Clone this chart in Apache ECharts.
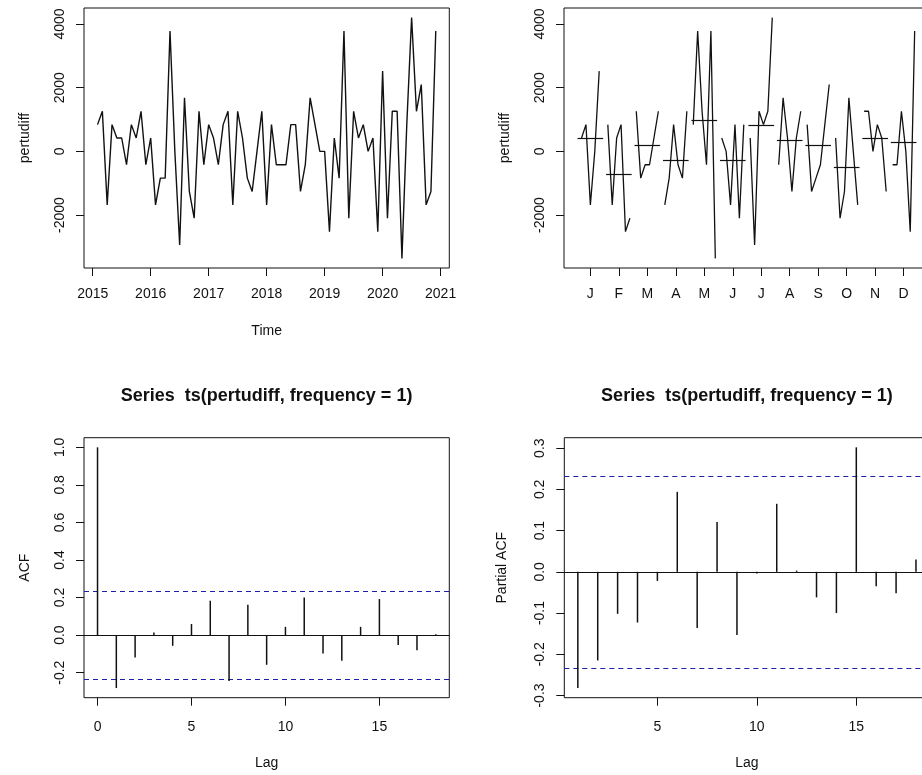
<!DOCTYPE html>
<html>
<head>
<meta charset="utf-8">
<title>pertudiff</title>
<script src="https://cdn.jsdelivr.net/npm/echarts@6/dist/echarts.min.js"></script>
<style>
  html, body { margin: 0; padding: 0; background: #fff; }
  #chart { width: 922px; height: 775px; }
</style>
</head>
<body>
<div id="chart"></div>
<script>
// Differenced monthly series, starting February 2015
const startYear = 2015;
const startMonth = 2;
const pertudiff = [
  840, 1260, -1680, 840, 420, 420, -420, 840, 420, 1260, -420,          // 2015 Feb-Dec
  420, -1680, -840, -840, 3780, 0, -2940, 1680, -1260, -2100, 1260, -420, // 2016
  840, 420, -420, 840, 1260, -1680, 1260, 420, -840, -1260, 0, 1260,      // 2017
  -1680, 840, -420, -420, -420, 840, 840, -1260, -420, 1680, 840, 0,      // 2018
  0, -2520, 420, -840, 3780, -2100, 1260, 420, 840, 0, 420, -2520,        // 2019
  2520, -2100, 1260, 1260, -3360, 840, 4200, 1260, 2100, -1680, -1260, 3780 // 2020
];

const monthLabels = ['J', 'F', 'M', 'A', 'M', 'J', 'J', 'A', 'S', 'O', 'N', 'D'];
const yearTicks = [2015, 2016, 2017, 2018, 2019, 2020, 2021];
const levelTicks = [-2000, 0, 2000, 4000];
const monthTicks = [1, 2, 3, 4, 5, 6, 7, 8, 9, 10, 11, 12];

// Sample autocorrelations, lags 0..18
const acfLags = [0, 1, 2, 3, 4, 5, 6, 7, 8, 9, 10, 11, 12, 13, 14, 15, 16, 17, 18];
const acfValues = [1.0, -0.282, -0.119, 0.014, -0.057, 0.059, 0.183, -0.245, 0.162, -0.158,
                   0.044, 0.200, -0.098, -0.137, 0.044, 0.192, -0.052, -0.080, 0.004];
// Partial autocorrelations, lags 1..18
const pacfLags = [1, 2, 3, 4, 5, 6, 7, 8, 9, 10, 11, 12, 13, 14, 15, 16, 17, 18];
const pacfValues = [-0.282, -0.215, -0.102, -0.123, -0.022, 0.194, -0.136, 0.121, -0.153,
                    -0.004, 0.165, 0.003, -0.062, -0.100, 0.302, -0.035, -0.052, 0.030];
const confBound = 0.2326;

const acfTicks = [-0.2, 0, 0.2, 0.4, 0.6, 0.8, 1.0];
const pacfTicks = [-0.3, -0.2, -0.1, 0, 0.1, 0.2, 0.3];
const acfLagTicks = [0, 5, 10, 15];
const pacfLagTicks = [5, 10, 15];

const mainTitle = 'Series  ts(pertudiff, frequency = 1)';

// ---------------------------------------------------------------------------
const FONT = '"Liberation Sans", Arial, Helvetica, sans-serif';
const INK = '#111';
const CI_BLUE = '#1e1ea8';

// R-style axis limits: data range widened by 4% on each side
function padRange(lo, hi) {
  const e = (hi - lo) * 0.04;
  return [lo - e, hi + e];
}

const times = pertudiff.map((_, k) => startYear + (startMonth - 1 + k) / 12);
const tsX = padRange(times[0], times[times.length - 1]);
const tsY = padRange(Math.min(...pertudiff), Math.max(...pertudiff));
const monthX = padRange(0.55, 12.45);
const acfX = padRange(acfLags[0], acfLags[acfLags.length - 1]);
const acfY = padRange(Math.min(...acfValues, -confBound), Math.max(...acfValues, confBound));
const pacfX = padRange(pacfLags[0], pacfLags[pacfLags.length - 1]);
const pacfY = padRange(Math.min(...pacfValues, -confBound), Math.max(...pacfValues, confBound));

// Month subseries for the seasonal plot
const groups = monthLabels.map(() => []);
pertudiff.forEach((v, k) => groups[(startMonth - 1 + k) % 12].push(v));
const monthMeans = groups.map((vals, m) => [m + 1, vals.reduce((a, b) => a + b, 0) / vals.length]);

function makeAxis(gridIndex, range, ticks, fmt, margin, name, nameGap, rotate) {
  return {
    type: 'value', gridIndex, min: range[0], max: range[1],
    axisLine: { show: false, onZero: false },
    splitLine: { show: false },
    axisTick: { show: true, length: 8, customValues: ticks, lineStyle: { color: INK, width: 1 } },
    axisLabel: {
      customValues: ticks, formatter: fmt, margin, rotate: rotate || 0,
      color: INK, fontSize: 14, fontFamily: FONT, hideOverlap: false
    },
    name, nameLocation: 'middle', nameGap,
    nameTextStyle: { color: INK, fontSize: 14, fontFamily: FONT }
  };
}

const fmtInt = v => String(Math.round(v));
const fmt1 = v => (Math.abs(v) < 1e-9 ? 0 : v).toFixed(1);
const fmtMonth = v => monthLabels[Math.round(v) - 1];

function gridBox(left, top, width, height) {
  return {
    left, top, width, height, show: true, borderColor: INK, borderWidth: 1,
    backgroundColor: 'transparent', containLabel: false, outerBoundsMode: 'none'
  };
}

// Vertical stems from zero to each value
function stemSeries(idx, lags, vals) {
  return {
    type: 'custom', xAxisIndex: idx, yAxisIndex: idx, silent: true,
    data: lags.map((l, i) => [l, vals[i]]),
    renderItem(params, api) {
      const p0 = api.coord([api.value(0), 0]);
      const p1 = api.coord([api.value(0), api.value(1)]);
      return {
        type: 'line',
        shape: { x1: p0[0], y1: p0[1], x2: p1[0], y2: p1[1] },
        style: { stroke: INK, lineWidth: 1.5 }
      };
    }
  };
}

// Horizontal reference lines across the whole plot box (snapped to the pixel grid)
function hLineSeries(idx, levels, color, dash) {
  return {
    type: 'custom', xAxisIndex: idx, yAxisIndex: idx, silent: true,
    data: levels.map(v => [0, v]),
    renderItem(params, api) {
      const cs = params.coordSys;
      const y = Math.round(api.coord([0, api.value(1)])[1]) + 0.5;
      return {
        type: 'line',
        shape: { x1: cs.x, y1: y, x2: cs.x + cs.width, y2: y },
        style: { stroke: color, lineWidth: 1, lineDash: dash || null }
      };
    }
  };
}

const series = [];

series.push({
  type: 'line', xAxisIndex: 0, yAxisIndex: 0, silent: true,
  showSymbol: false, symbol: 'none',
  data: pertudiff.map((v, k) => [times[k], v]),
  lineStyle: { color: INK, width: 1.4 }
});

groups.forEach((vals, m) => {
  series.push({
    type: 'line', xAxisIndex: 1, yAxisIndex: 1, silent: true,
    showSymbol: false, symbol: 'none',
    data: vals.map((v, j) => [m + 1 + (j - (vals.length - 1) / 2) * 0.155, v]),
    lineStyle: { color: INK, width: 1.3 }
  });
});

series.push({
  type: 'custom', xAxisIndex: 1, yAxisIndex: 1, silent: true,
  data: monthMeans,
  renderItem(params, api) {
    const a = api.coord([api.value(0) - 0.45, api.value(1)]);
    const b = api.coord([api.value(0) + 0.45, api.value(1)]);
    const y = Math.round(a[1]) + 0.5;
    return {
      type: 'line',
      shape: { x1: a[0], y1: y, x2: b[0], y2: y },
      style: { stroke: INK, lineWidth: 1.2 }
    };
  }
});

series.push(hLineSeries(2, [0], INK));
series.push(hLineSeries(2, [confBound, -confBound], CI_BLUE, [5, 4]));
series.push(stemSeries(2, acfLags, acfValues));

series.push(hLineSeries(3, [0], INK));
series.push(hLineSeries(3, [confBound, -confBound], CI_BLUE, [5, 4]));
series.push(stemSeries(3, pacfLags, pacfValues));

const option = {
  animation: false,
  backgroundColor: '#fff',
  textStyle: { fontFamily: FONT },
  grid: [
    gridBox(84, 8, 365.3, 260),
    gridBox(564, 8, 366, 260),
    gridBox(84, 437.7, 365.3, 260),
    gridBox(564.3, 437.7, 365.2, 260)
  ],
  xAxis: [
    makeAxis(0, tsX, yearTicks, fmtInt, 19, 'Time', 56),
    makeAxis(1, monthX, monthTicks, fmtMonth, 19, '', 56),
    makeAxis(2, acfX, acfLagTicks, fmtInt, 22, 'Lag', 58),
    makeAxis(3, pacfX, pacfLagTicks, fmtInt, 22, 'Lag', 58)
  ],
  yAxis: [
    makeAxis(0, tsY, levelTicks, fmtInt, 17, 'pertudiff', 52, 90),
    makeAxis(1, tsY, levelTicks, fmtInt, 17, 'pertudiff', 52, 90),
    makeAxis(2, acfY, acfTicks, fmt1, 17, 'ACF', 52, 90),
    makeAxis(3, pacfY, pacfTicks, fmt1, 17, 'Partial ACF', 55, 90)
  ],
  graphic: [
    {
      type: 'text', x: 266.6, y: 396, silent: true,
      style: { text: mainTitle, fill: INK, font: 'bold 18px ' + FONT, textAlign: 'center', textVerticalAlign: 'middle' }
    },
    {
      type: 'text', x: 746.9, y: 396, silent: true,
      style: { text: mainTitle, fill: INK, font: 'bold 18px ' + FONT, textAlign: 'center', textVerticalAlign: 'middle' }
    }
  ],
  series
};

const chart = echarts.init(document.getElementById('chart'), null, { renderer: 'canvas', width: 922, height: 775 });
chart.setOption(option);
</script>
</body>
</html>
